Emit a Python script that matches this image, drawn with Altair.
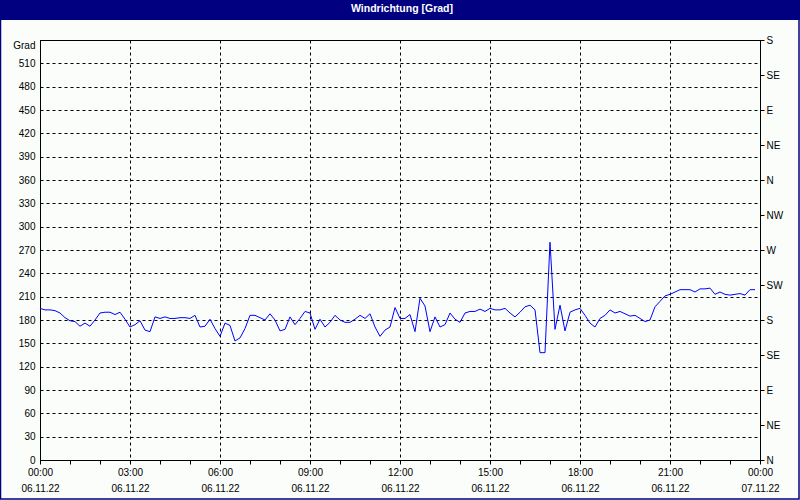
import json
import altair as alt
import pandas as pd

# Wind direction every 10 minutes, 06.11.22 00:00 .. 23:50 (degrees)
direction = [
    195, 193, 193, 192, 189, 183, 179, 178, 172, 176, 172, 180,
    189, 190, 190, 187, 190, 181, 171, 174, 179, 167, 165, 184,
    182, 184, 182, 182, 183, 183, 182, 186, 171, 172, 181, 169,
    159, 176, 173, 153, 157, 169, 186, 186, 183, 180, 188, 180,
    166, 168, 184, 174, 182, 191, 189, 168, 181, 171, 177, 186,
    180, 177, 177, 181, 186, 182, 188, 171, 159, 167, 171, 196,
    182, 182, 187, 165, 208, 198, 165, 184, 171, 174, 189, 181,
    177, 189, 191, 191, 194, 191, 195, 193, 193, 195, 189, 184,
    190, 197, 199, 193, 138, 138, 280, 168, 199, 166, 190, 193,
    195, 186, 176, 171, 182, 186, 193, 189, 191, 188, 185, 186,
    182, 178, 180, 197, 204, 211, 213, 216, 219, 219, 219, 216,
    220, 220, 221, 213, 216, 213, 212, 213, 214, 212, 219, 219,
]
hours = [i / 6 for i in range(len(direction))]

y_ticks = list(range(0, 541, 30))
compass_ticks = list(range(0, 541, 45))
compass_labels = ["N", "NE", "E", "SE", "S", "SW", "W", "NW", "N", "NE", "E", "SE", "S"]
x_ticks = list(range(0, 25))
time_labels = ["00:00", "03:00", "06:00", "09:00", "12:00", "15:00", "18:00", "21:00", "00:00"]
date_labels = ["06.11.22"] * 8 + ["07.11.22"]
title_text = "Windrichtung [Grad]"

df = pd.DataFrame({"h": hours, "deg": direction})

FONT = "Liberation Sans"
NAVY = "#000080"

x_enc = alt.X(
    "h:Q",
    scale=alt.Scale(domain=[0, 24], nice=False),
    axis=alt.Axis(
        title=None,
        values=x_ticks,
        tickSize=4,
        labelPadding=3,
        labelFlush=False,
        labelOverlap=False,
        labelBound=False,
        labelLineHeight=16,
        labelBaseline="top",
        labelExpr=(
            "datum.value % 3 == 0 ? ["
            + json.dumps(time_labels) + "[datum.value/3], "
            + json.dumps(date_labels) + "[datum.value/3]] : ''"
        ),
        grid=True,
        gridColor="black",
        gridDash=[3, 3],
        gridOpacity={"condition": {"test": "datum.value % 3 == 0", "value": 1}, "value": 0},
    ),
)

main = alt.Chart(df).mark_line(color="#0000ff", strokeWidth=1).encode(
    x=x_enc,
    y=alt.Y(
        "deg:Q",
        scale=alt.Scale(domain=[0, 540], nice=False),
        axis=alt.Axis(
            title=None,
            orient="left",
            values=y_ticks,
            ticks=False,
            labelPadding=5,
            labelExpr="datum.value == 540 ? 'Grad' : datum.label",
            labelBaseline={"condition": {"test": "datum.value == 540", "value": "top"}, "value": "middle"},
            grid=True,
            gridColor="black",
            gridDash=[3, 3],
        ),
    ),
)

right = alt.Chart(df).mark_line(opacity=0).encode(
    x=x_enc,
    y=alt.Y(
        "deg:Q",
        scale=alt.Scale(domain=[0, 540], nice=False),
        axis=alt.Axis(
            title=None,
            orient="right",
            values=compass_ticks,
            tickSize=4,
            labelPadding=2,
            grid=False,
            labelExpr=json.dumps(compass_labels) + "[round(datum.value/45)]",
        ),
    ),
)

one = alt.Data(values=[{"a": 1}])
title_bar = alt.Chart(one).mark_rect(color=NAVY).encode(
    x=alt.value(-40), x2=alt.value(760), y=alt.value(-40), y2=alt.value(-20)
)
title_label = alt.Chart(one).mark_text(
    text=title_text, color="white", font=FONT, fontSize=10.5, fontWeight="bold",
    align="center", baseline="middle",
).encode(x=alt.value(362), y=alt.value(-31))
border = alt.Chart(one).mark_rect(filled=False, stroke=NAVY, strokeWidth=1.5).encode(
    x=alt.value(-39.5), x2=alt.value(759), y=alt.value(-40), y2=alt.value(459)
)

chart = (
    alt.layer(main, right, title_bar, title_label, border)
    .resolve_scale(y="independent")
    .properties(
        width=720,
        height=420,
        autosize=alt.AutoSizeParams(type="none"),
        padding={"left": 40, "top": 40, "right": 40, "bottom": 40},
    )
    .configure(background="#fafdfa")
    .configure_view(stroke="black", strokeWidth=1)
    .configure_axis(
        domainColor="black",
        tickColor="black",
        labelColor="black",
        labelFont=FONT,
        labelFontSize=10,
        gridWidth=1,
    )
)

chart.save("out.html", embed_options={"renderer": "svg", "actions": False})
